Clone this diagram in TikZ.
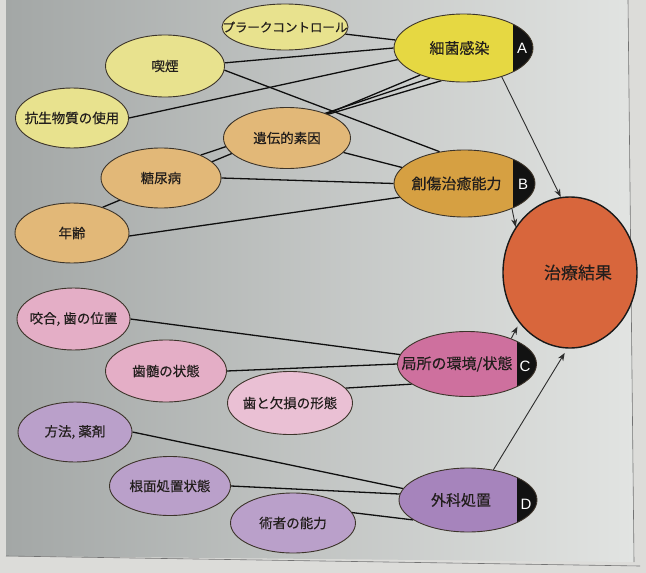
\documentclass[tikz,border=0pt]{standalone}
\usepackage{fontspec}
\newfontfamily\jpfont[FakeBold=0.35]{Noto Sans CJK JP}
\setsansfont{Liberation Sans}
\usetikzlibrary{shapes.geometric,arrows.meta}
\pgfdeclarelayer{paper}
\pgfdeclarelayer{lines}
\pgfsetlayers{paper,lines,main}
\definecolor{paperc}{RGB}{220,220,217}
\definecolor{panelL}{RGB}{163,167,166}
\definecolor{panelM}{RGB}{202,205,204}
\definecolor{panelR}{RGB}{226,228,226}
\definecolor{lyel}{RGB}{232,226,142}
\definecolor{yelA}{RGB}{230,216,66}
\definecolor{ltan}{RGB}{226,184,120}
\definecolor{tanB}{RGB}{214,160,66}
\definecolor{resc}{RGB}{216,102,60}
\definecolor{lpink}{RGB}{228,174,198}
\definecolor{llpink}{RGB}{234,192,212}
\definecolor{pinkC}{RGB}{206,112,158}
\definecolor{lpurp}{RGB}{186,160,202}
\definecolor{purpD}{RGB}{166,132,188}
\definecolor{edgec}{RGB}{60,52,42}
\definecolor{txtc}{RGB}{34,30,28}
\definecolor{capc}{RGB}{18,18,18}
\definecolor{linec}{RGB}{15,15,15}
\definecolor{arrc}{RGB}{45,45,45}
\newcommand\bubtext[1]{\makebox[0pt]{#1}}
\newcommand\corefont{\fontsize{15}{18}\selectfont}
\tikzset{
  bub/.style={ellipse, draw=edgec, line width=0.9pt, inner sep=0pt, text=txtc,
    font=\jpfont\fontsize{13.5}{16}\selectfont},
  capped/.style={path picture={\fill[capc] ([xshift=-#1]path picture bounding box.north east) rectangle (path picture bounding box.south east);}},
  letter/.style={text=white, inner sep=0pt, font=\sffamily\fontsize{15}{18}\selectfont},
  link/.style={draw=linec, line width=1.3pt},
  arr/.style={draw=arrc, line width=0.9pt, -{Stealth[length=8pt,width=6pt]}},
}
\begin{document}
\begin{tikzpicture}[x=1pt,y=-1pt]
\useasboundingbox (0,0) rectangle (646,573);
\begin{pgfonlayer}{paper}
\fill[paperc] (0,0) rectangle (646,573);
\shade[left color=panelL, middle color=panelM, right color=panelR] (6,0) -- (628,0) -- (634,562) -- (6,556) -- cycle;
\draw[black!55, line width=0.6pt] (628,0) -- (634,562);
\draw[black!55, line width=0.6pt] (6,556) -- (640,566);
\end{pgfonlayer}

% top group
\node[bub, fill=lyel, minimum width=126pt, minimum height=46pt] (plaque) at (285,27) {\bubtext{\fontsize{12.5}{15}\selectfont プラークコントロール}};
\node[bub, fill=lyel, minimum width=119pt, minimum height=62pt] (smoke) at (165,66) {\bubtext{喫煙}};
\node[bub, fill=lyel, minimum width=113pt, minimum height=60pt] (anti) at (72,118) {\bubtext{抗生物質の使用}};
\node[bub, fill=ltan, minimum width=127pt, minimum height=61pt] (gene) at (287,138) {\bubtext{遺伝的素因}};
\node[bub, fill=ltan, minimum width=120pt, minimum height=60pt] (diab) at (161,178) {\bubtext{糖尿病}};
\node[bub, fill=ltan, minimum width=114pt, minimum height=60pt] (age) at (72,233) {\bubtext{年齢}};
\node[bub, fill=yelA, capped=20pt, minimum width=139pt, minimum height=68pt] (A) at (463.5,48) {\bubtext{\corefont 細菌感染\hspace*{8pt}}};
\node[bub, fill=tanB, capped=22pt, minimum width=141pt, minimum height=67pt] (B) at (464.5,183.5) {\bubtext{\corefont 創傷治癒能力\hspace*{16pt}}};
\node[bub, fill=resc, line width=1.4pt, draw=black!90, minimum width=134pt, minimum height=151pt] (res) at (570,272.5) {\bubtext{\hspace*{16pt}\fontsize{17}{20}\selectfont 治療結果}};

% middle group
\node[bub, fill=lpink, minimum width=113pt, minimum height=62pt] (occl) at (73.5,319) {\bubtext{咬合, 歯の位置}};
\node[bub, fill=lpink, minimum width=121pt, minimum height=62pt] (pulp) at (166,371) {\bubtext{歯髄の状態}};
\node[bub, fill=llpink, minimum width=125pt, minimum height=63pt] (tooth) at (290,403) {\bubtext{歯と欠損の形態}};
\node[bub, fill=pinkC, capped=20pt, minimum width=139pt, minimum height=65pt] (C) at (467,364) {\bubtext{\corefont 局所の環境/状態\hspace*{20pt}}};

% bottom group
\node[bub, fill=lpurp, minimum width=114pt, minimum height=60pt] (meth) at (75,432) {\bubtext{方法, 薬剤}};
\node[bub, fill=lpurp, minimum width=121pt, minimum height=59pt] (root) at (170,486) {\bubtext{根面処置状態}};
\node[bub, fill=lpurp, minimum width=125pt, minimum height=60pt] (oper) at (293,523) {\bubtext{術者の能力}};
\node[bub, fill=purpD, capped=20pt, minimum width=138pt, minimum height=64pt] (D) at (468,500) {\bubtext{\corefont 外科処置\hspace*{14pt}}};

% letters
\node[letter] (Al) at (522,48) {A};
\node[letter] (Bl) at (523,184) {B};
\node[letter] (Cl) at (525,366) {C};
\node[letter] (Dl) at (526,504) {D};

\begin{pgfonlayer}{lines}
% to A
\draw[link] (plaque) -- (A);
\draw[link] (smoke.3) -- (A.180);
\draw[link] (anti.east) -- (A.190);
\draw[link] (age.40) -- (A.212);
\draw[link] (diab.30) -- (A.222);
\draw[link] (gene.30) -- (A.236);
% to B
\draw[link] (smoke.-4) -- (B.128);
\draw[link] (gene) -- (B);
\draw[link] (diab.east) -- (B.west);
\draw[link] (age.-3) -- (B.192);
% to C
\draw[link] (occl.east) -- (C.172);
\draw[link] (pulp.east) -- (C.west);
\draw[link] (tooth.15) -- (C.200);
% to D
\draw[link] (meth.east) -- (D.170);
\draw[link] (root.east) -- (D.175);
\draw[link] (oper.10) -- (D.200);
% arrows to result
\draw[arr] (A.-37) -- (res.97);
\draw[arr] (B.-28) -- (res.140);
\draw[arr, shorten >=4pt] (C.30) -- (res.-135);
\draw[arr, shorten >=5pt] (D.50) -- (res.-92);
\end{pgfonlayer}
\end{tikzpicture}
\end{document}
